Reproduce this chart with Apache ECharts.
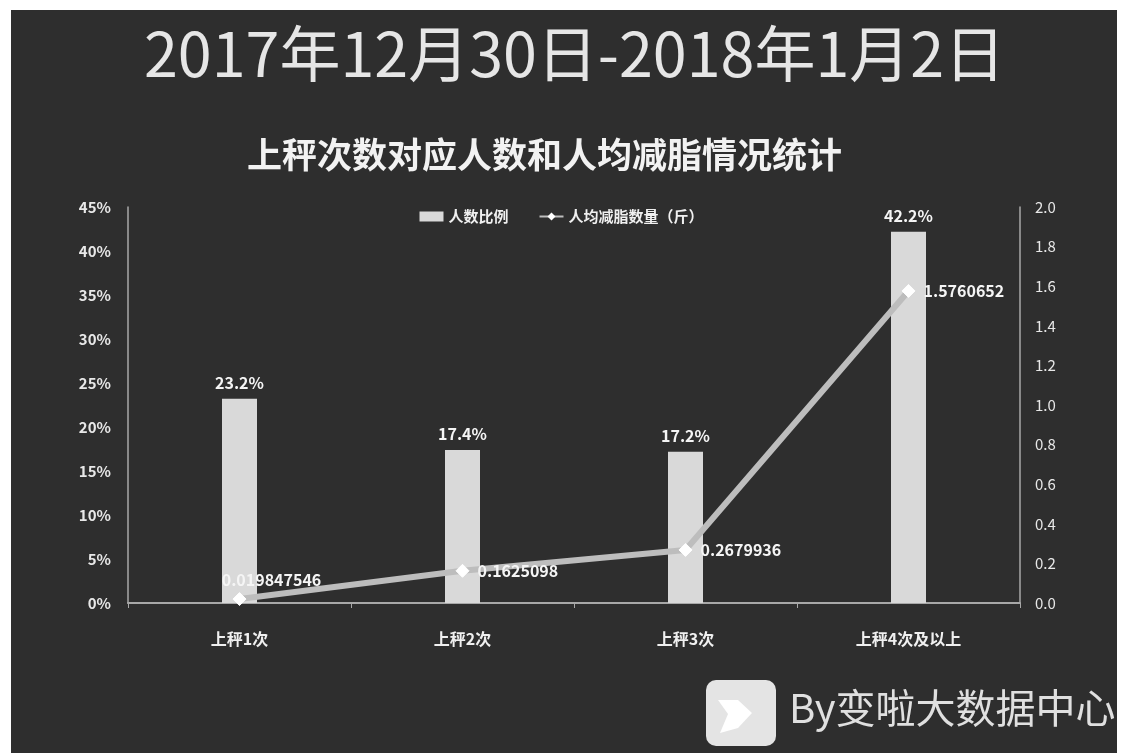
<!DOCTYPE html>
<html>
<head>
<meta charset="utf-8">
<script src="https://cdn.jsdelivr.net/npm/echarts@6/dist/echarts.min.js"></script>
<style>
html,body{margin:0;padding:0;background:#fff;}
#chart{width:1123px;height:753px;}
</style>
</head>
<body>
<div id="chart"></div>
<script>
var categories = ['上秤1次', '上秤2次', '上秤3次', '上秤4次及以上'];
var peopleRatio = [23.2, 17.4, 17.2, 42.2];
var avgFatLoss = [0.019847546, 0.1625098, 0.2679936, 1.5760652];
var avgFatLossLabels = ['0.019847546', '0.1625098', '0.2679936', '1.5760652'];
var leftTicks = { min: 0, max: 45, interval: 5 };
var rightTicks = { min: 0, max: 2.0, interval: 0.2 };

var font = '"Noto Sans CJK SC", "Noto Sans", sans-serif';
var chart = echarts.init(document.getElementById('chart'));

var lineData = avgFatLoss.map(function (v, i) {
  var item = { value: v };
  if (i === 0) {
    item.label = { position: 'top', offset: [32, 4] };
  }
  return item;
});

chart.setOption({
  backgroundColor: '#ffffff',
  animation: false,
  textStyle: { fontFamily: font },
  graphic: [
    { type: 'rect', z: -10, shape: { x: 11, y: 10, width: 1106, height: 745 }, style: { fill: '#2e2e2e' } },
    { type: 'text', left: 144, top: 23, style: { text: '2017年12月30日-2018年1月2日', fill: '#e6e6e6', font: 'normal 61px ' + font } },
    { type: 'text', left: 247, top: 137, style: { text: '上秤次数对应人数和人均减脂情况统计', fill: '#f2f2f2', font: 'bold 35px ' + font } },
    { type: 'rect', shape: { x: 706, y: 680, width: 70, height: 66, r: 10 }, style: { fill: '#e4e4e4' } },
    { type: 'polygon', shape: { points: [[718, 700], [738, 700], [752, 713], [738, 728], [720, 733], [728, 714]] }, style: { fill: '#ffffff' } },
    { type: 'text', left: 789, top: 688, style: { text: 'By变啦大数据中心', fill: '#e0e0e0', font: 'normal 40px ' + font } }
  ],
  legend: {
    top: 204,
    left: 'center',
    itemWidth: 24,
    itemHeight: 10,
    itemGap: 30,
    textStyle: { color: '#f0f0f0', fontSize: 15, fontWeight: 'bold', fontFamily: font },
    data: [
      { name: '人数比例', icon: 'rect' },
      { name: '人均减脂数量（斤）' }
    ]
  },
  grid: { left: 128, right: 103, top: 207, bottom: 150, containLabel: false },
  xAxis: {
    type: 'category',
    data: categories,
    axisLine: { lineStyle: { color: '#a8a8a8', width: 2 } },
    axisTick: { show: true, alignWithLabel: false, length: 5, lineStyle: { color: '#a8a8a8' } },
    axisLabel: { color: '#f0f0f0', fontSize: 16, fontWeight: 'bold', margin: 28 }
  },
  yAxis: [
    {
      type: 'value',
      min: leftTicks.min, max: leftTicks.max, interval: leftTicks.interval,
      axisLine: { show: true, lineStyle: { color: '#a8a8a8', width: 1.5 } },
      axisTick: { show: false },
      splitLine: { show: false },
      axisLabel: { color: '#e8e8e8', fontSize: 15, fontWeight: 'bold', margin: 17, formatter: '{value}%' }
    },
    {
      type: 'value',
      min: rightTicks.min, max: rightTicks.max, interval: rightTicks.interval,
      axisLine: { show: true, lineStyle: { color: '#a8a8a8', width: 1.5 } },
      axisTick: { show: false },
      splitLine: { show: false },
      axisLabel: { color: '#e8e8e8', fontSize: 15, margin: 15, formatter: function (v) { return v.toFixed(1); } }
    }
  ],
  series: [
    {
      name: '人数比例',
      type: 'bar',
      data: peopleRatio,
      barWidth: 35,
      itemStyle: { color: '#d9d9d9' },
      label: { show: true, position: 'top', distance: 8, color: '#f5f5f5', fontSize: 16, fontWeight: 'bold', formatter: function (p) { return p.value.toFixed(1) + '%'; } }
    },
    {
      name: '人均减脂数量（斤）',
      type: 'line',
      yAxisIndex: 1,
      data: lineData,
      symbol: 'diamond',
      symbolSize: 13,
      lineStyle: { color: '#bdbdbd', width: 6 },
      itemStyle: { color: '#ffffff', borderColor: '#ffffff' },
      label: {
        show: true, position: 'right', distance: 8, color: '#f5f5f5', fontSize: 16, fontWeight: 'bold',
        formatter: function (p) { return avgFatLossLabels[p.dataIndex]; }
      },
      z: 5
    }
  ]
});
</script>
</body>
</html>
